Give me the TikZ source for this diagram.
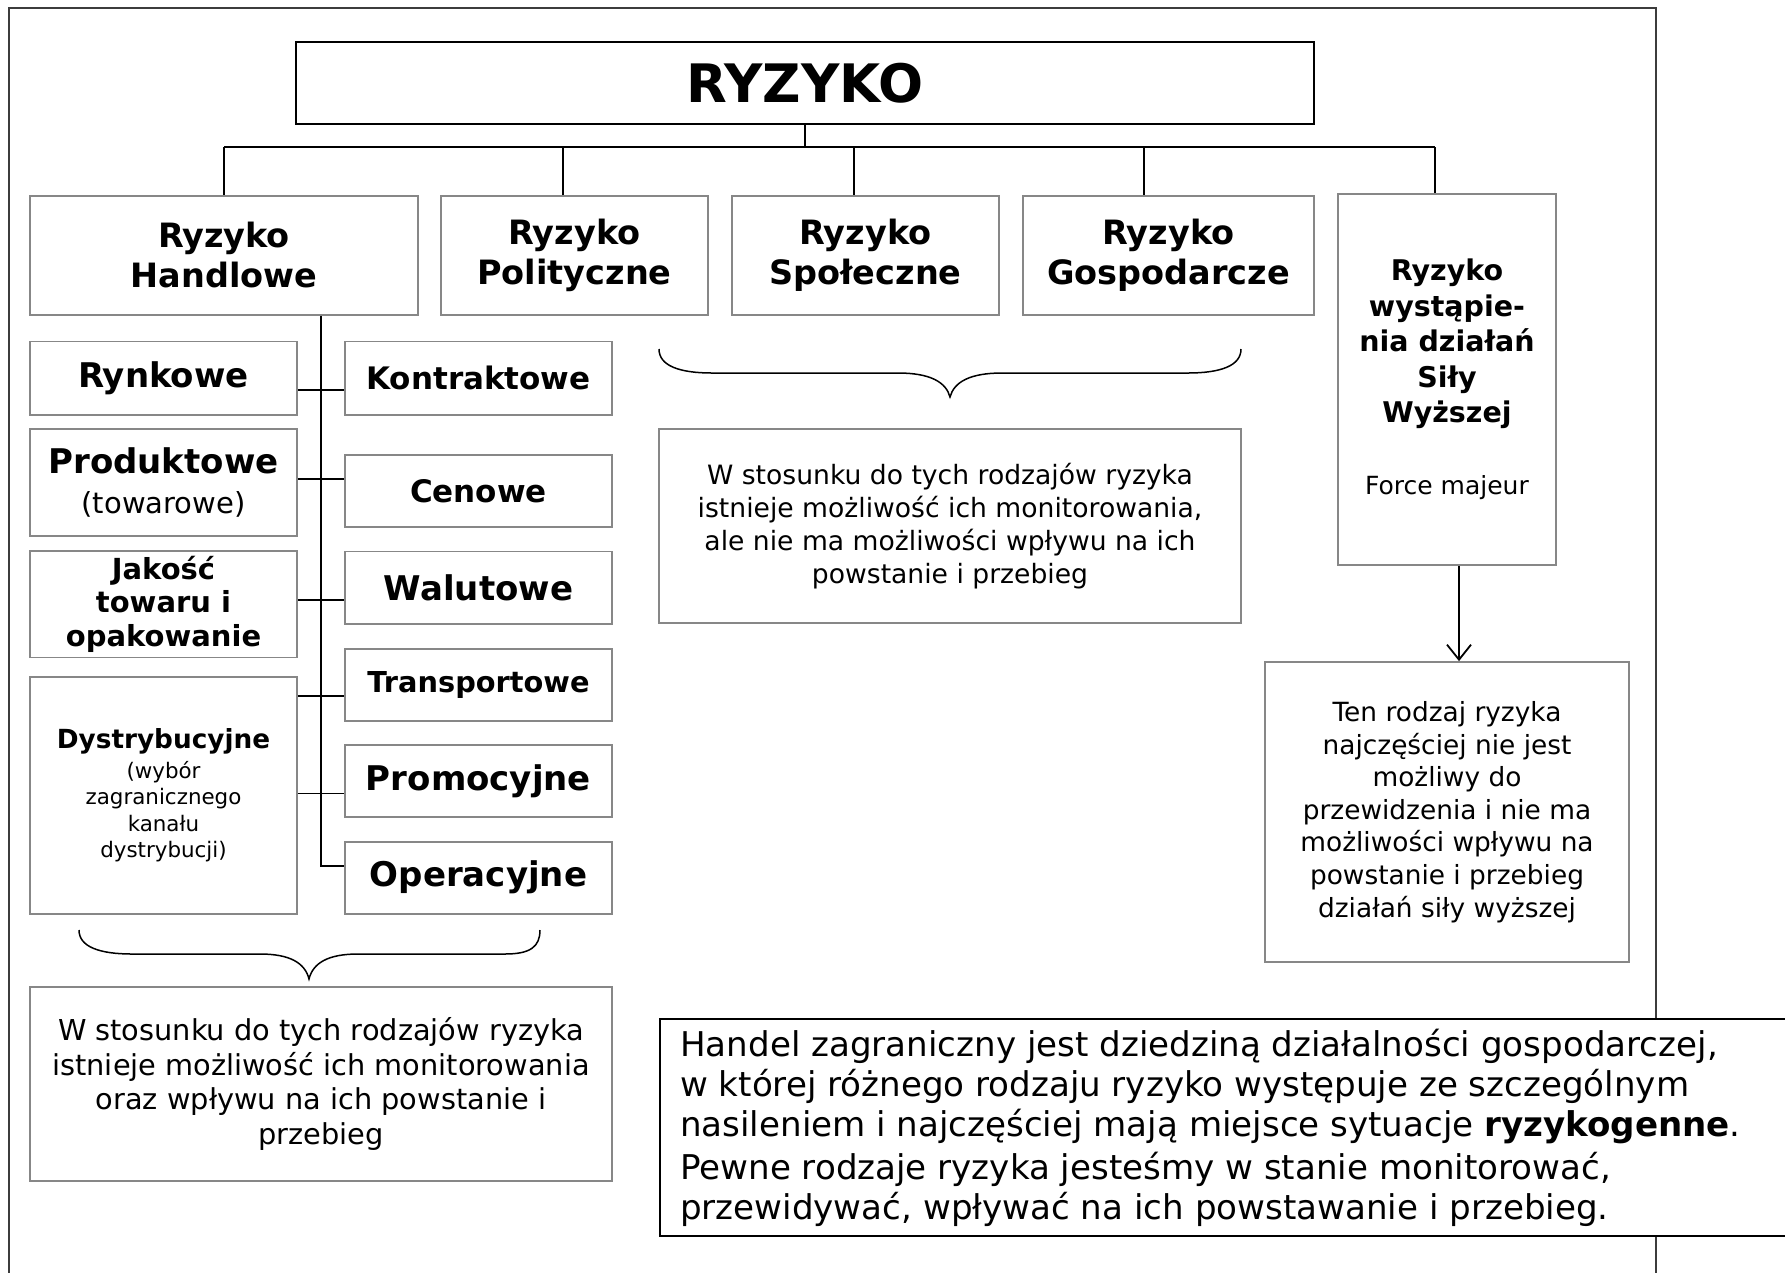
\documentclass[tikz,border=0pt]{standalone}
\usepackage{fontspec}
\setmainfont{DejaVu Sans}
\usetikzlibrary{arrows.meta}
\definecolor{boxgray}{RGB}{135,135,135}
\definecolor{framegray}{RGB}{60,60,60}
\newcommand{\fs}[2]{\fontsize{#1}{#2}\selectfont}
\begin{document}
\begin{tikzpicture}[x=1pt,y=-1pt,
  gbox/.style={rectangle, draw=boxgray, line width=1.8pt, fill=white, inner sep=0pt, align=center},
  kbox/.style={rectangle, draw=black, line width=2.2pt, fill=white, inner sep=0pt, align=center},
  conn/.style={draw=black, line width=1.5pt},
  brace/.style={draw=black, line width=1.5pt},
  ttl/.style={font=\fs{33.5}{40}\bfseries},
  ]
\useasboundingbox (0,0) rectangle (1785,1272);
\clip (0,0) rectangle (1785,1272);
\fill[white] (0,0) rectangle (1785,1272);
% outer frame
\draw[framegray, line width=1.3pt] (9,8) rectangle (1656,1300);

% top
\node[kbox, minimum width=1018pt, minimum height=82pt, font=\fs{53}{60}\bfseries] (ryz) at (805,83) {RYZYKO};

% main categories
\node[gbox, ttl, minimum width=388pt, minimum height=119pt] (handl) at (224,255.5) {Ryzyko\\Handlowe};
\node[gbox, ttl, minimum width=267pt, minimum height=119pt] (pol) at (574.5,255.5) {Ryzyko\\Polityczne};
\node[gbox, ttl, minimum width=267pt, minimum height=119pt] (spol) at (865.5,255.5) {Ryzyko\\Społeczne};
\node[gbox, ttl, minimum width=291pt, minimum height=119pt] (gosp) at (1168.5,255.5) {Ryzyko\\Gospodarcze};
\node[gbox, minimum width=218pt, minimum height=371pt, font=\fs{28.5}{35.5}\bfseries] (force) at (1447,379.5)
  {Ryzyko\\wystąpie-\\nia działań\\Siły\\Wyższej\\[36pt]{\mdseries\fs{25}{35.5}Force majeur}};

% left column
\node[gbox, minimum width=267pt, minimum height=73.2pt, font=\fs{34}{40}\bfseries] (rynk) at (163.5,378.1) {Rynkowe};
\node[gbox, minimum width=267pt, minimum height=106.7pt, font=\fs{34}{39.6}\bfseries] (prod) at (163.5,482.35) {Produktowe\\{\mdseries\fs{29}{39.6}(towarowe)}};
\node[gbox, minimum width=267pt, minimum height=106.8pt, font=\fs{29}{33.5}\bfseries] (jak) at (163.5,604.1) {Jakość\\towaru i\\opakowanie};
\node[gbox, minimum width=267pt, minimum height=236.7pt, font=\fs{21.4}{26.5}] (dys) at (163.5,795.35)
  {{\bfseries\fs{26.3}{26.5}Dystrybucyjne}\\[3pt](wybór\\zagranicznego\\kanału\\dystrybucji)};

% right column
\node[gbox, minimum width=267pt, minimum height=73.2pt, font=\fs{31}{40}\bfseries] (kon) at (478.5,378.1) {Kontraktowe};
\node[gbox, minimum width=267pt, minimum height=72pt, font=\fs{31}{40}\bfseries] (cen) at (478.5,491) {Cenowe};
\node[gbox, minimum width=267pt, minimum height=72.5pt, font=\fs{34}{40}\bfseries] (wal) at (478.5,587.75) {Walutowe};
\node[gbox, minimum width=267pt, minimum height=72pt, font=\fs{28.8}{40}\bfseries] (tra) at (478.5,684.7) {Transportowe};
\node[gbox, minimum width=267pt, minimum height=72pt, font=\fs{34}{40}\bfseries] (pro) at (478.5,781) {Promocyjne};
\node[gbox, minimum width=267pt, minimum height=72pt, font=\fs{34}{40}\bfseries] (ope) at (478.5,877.7) {Operacyjne};

% explanation boxes
\node[gbox, minimum width=582pt, minimum height=194pt, font=\fs{26.6}{33}] (mid) at (950,526)
  {W stosunku do tych rodzajów ryzyka\\istnieje możliwość ich monitorowania,\\ale nie ma możliwości wpływu na ich\\powstanie i przebieg};
\node[gbox, minimum width=582pt, minimum height=194pt, font=\fs{28.8}{34.7}] (lb) at (321,1084)
  {W stosunku do tych rodzajów ryzyka\\istnieje możliwość ich monitorowania\\oraz wpływu na ich powstanie i\\przebieg};
\node[gbox, minimum width=364pt, minimum height=300pt, font=\fs{26.4}{32.6}] (rb) at (1447,812)
  {Ten rodzaj ryzyka\\najczęściej nie jest\\możliwy do\\przewidzenia i nie ma\\możliwości wpływu na\\powstanie i przebieg\\działań siły wyższej};

% big text box
\node[rectangle, draw=black, line width=2pt, fill=white, inner sep=0pt, minimum width=1135pt, minimum height=217pt] (big) at (1227.5,1127.5) {};
\node[anchor=west, inner sep=0pt, align=left, font=\fs{34.1}{40}] (bigtxt) at (680,1127.5)
  {Handel zagraniczny jest dziedziną działalności gospodarczej,\\
   w której różnego rodzaju ryzyko występuje ze szczególnym\\
   nasileniem i najczęściej mają miejsce sytuacje \textbf{ryzykogenne}.\\[3pt]
   Pewne rodzaje ryzyka jesteśmy w stanie monitorować,\\
   przewidywać, wpływać na ich powstawanie i przebieg.};

% tree connectors
\coordinate (busL) at (224,147);
\coordinate (busR) at (1435,147);
\coordinate (d2) at (563,147);
\coordinate (d3) at (854,147);
\coordinate (d4) at (1144,147);
\draw[conn] (ryz.south) -- (ryz.south |- busL);
\draw[conn] (busL) -- (busR);
\draw[conn] (busL) -- (handl.north);
\draw[conn] (d2) -- (d2 |- pol.north);
\draw[conn] (d3) -- (d3 |- spol.north);
\draw[conn] (d4) -- (d4 |- gosp.north);
\draw[conn] (busR) -- (busR |- force.north);

% spine of Handlowe
\coordinate (k1) at (321,390);
\coordinate (k2) at (321,479);
\coordinate (k3) at (321,600);
\coordinate (k4) at (321,696);
\coordinate (k5) at (321,793.5);
\coordinate (k7) at (321,866);
\draw[conn] (handl.south -| k7) -- (k7) -- (ope.west |- k7);
\draw[conn] (rynk.east |- k1) -- (kon.west |- k1);
\draw[conn] (prod.east |- k2) -- (cen.west |- k2);
\draw[conn] (jak.east |- k3) -- (wal.west |- k3);
\draw[conn] (dys.east |- k4) -- (tra.west |- k4);
\draw[conn] (dys.east |- k5) -- (pro.west |- k5);

% arrow force -> note
\coordinate (ax) at (1459,0);
\draw[conn, -{Straight Barb[length=15pt,width=24pt,line width=1.8pt]}] (force.south -| ax) -- (rb.north -| ax);

% braces
\draw[brace] (659,349) .. controls (659,366) and (680,373) .. (712,373) -- (898,373)
  .. controls (930,373) and (946,382) .. (950,397)
  .. controls (954,382) and (970,373) .. (1002,373) -- (1188,373)
  .. controls (1220,373) and (1241,366) .. (1241,349);
\draw[brace] (79,930) .. controls (79,947) and (100,954) .. (132,954) -- (260,954)
  .. controls (290,954) and (305,963) .. (309,979)
  .. controls (313,963) and (328,954) .. (358,954) -- (505,954)
  .. controls (530,954) and (540,947) .. (540,930);
\end{tikzpicture}
\end{document}
